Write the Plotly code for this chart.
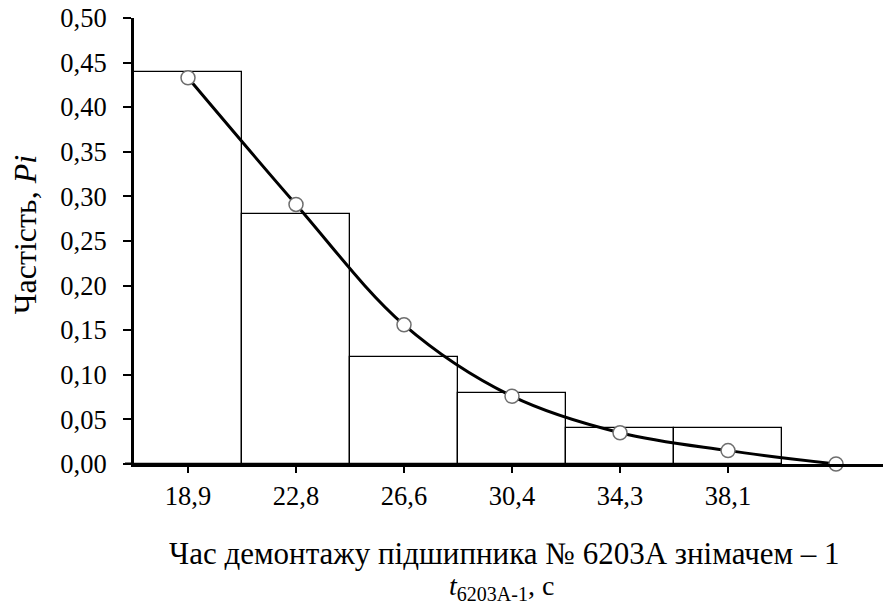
import plotly.graph_objects as go

categories = ["18,9", "22,8", "26,6", "30,4", "34,3", "38,1"]
bar_values = [0.44, 0.28, 0.12, 0.08, 0.04, 0.04]
curve_values = [0.433, 0.291, 0.156, 0.076, 0.035, 0.015, 0.0]

FONT = "Liberation Serif, Tinos, Times New Roman, DejaVu Serif"

bar_x = list(range(len(categories)))
curve_x = list(range(len(curve_values)))

fig = go.Figure()
fig.add_trace(go.Bar(
    x=bar_x, y=bar_values, width=1,
    marker=dict(color="white", line=dict(color="black", width=1.3)),
    showlegend=False, hoverinfo="skip",
))
fig.add_trace(go.Scatter(
    x=curve_x, y=curve_values, mode="lines+markers",
    line=dict(color="black", width=3, shape="spline", smoothing=1),
    marker=dict(size=14, color="white", line=dict(color="#6e6e6e", width=1.5)),
    showlegend=False, cliponaxis=False,
))

fig.update_layout(
    width=883, height=607,
    margin=dict(l=134, r=0, t=18, b=143),
    plot_bgcolor="white", paper_bgcolor="white",
    separators=", ",
    font=dict(family=FONT, size=26, color="black"),
    bargap=0,
)
fig.update_xaxes(
    range=[-0.5, 6.435],
    tickmode="array", tickvals=bar_x, ticktext=categories,
    showline=True, linecolor="black", linewidth=3,
    ticks="outside", ticklen=6, tickwidth=2, tickcolor="black",
    showgrid=False, zeroline=False,
    tickfont=dict(family=FONT, size=26.5),
)
fig.update_yaxes(
    range=[0, 0.5], dtick=0.05, tickformat=".2f",
    showline=True, linecolor="black", linewidth=3,
    ticks="outside", ticklen=8, tickwidth=2, tickcolor="black",
    showgrid=False, zeroline=False, ticklabelstandoff=11,
    tickfont=dict(family=FONT, size=26.5),
)

fig.add_shape(type="line", xref="paper", yref="y", x0=-0.012, x1=0, y0=0, y1=0,
              line=dict(color="black", width=3))

fig.add_annotation(
    text="Частість, <i>Pi</i>", xref="paper", yref="paper",
    x=-0.1455, y=0.513, textangle=-90, showarrow=False,
    xanchor="center", yanchor="middle", font=dict(family=FONT, size=32),
)
fig.add_annotation(
    text="Час демонтажу підшипника № 6203А знімачем – 1", xref="paper", yref="paper",
    x=0.495, y=-0.2, showarrow=False, xanchor="center", yanchor="middle",
    font=dict(family=FONT, size=31),
)
fig.add_annotation(
    text="<i>t</i><sub><span style='font-size:20px'>6203А-1</span></sub>, с",
    xref="paper", yref="paper",
    x=0.49, y=-0.277, showarrow=False, xanchor="center", yanchor="middle",
    font=dict(family=FONT, size=28),
)

fig.write_html("out.html", config={"displayModeBar": False},
               post_script="document.body.style.margin='0';")
